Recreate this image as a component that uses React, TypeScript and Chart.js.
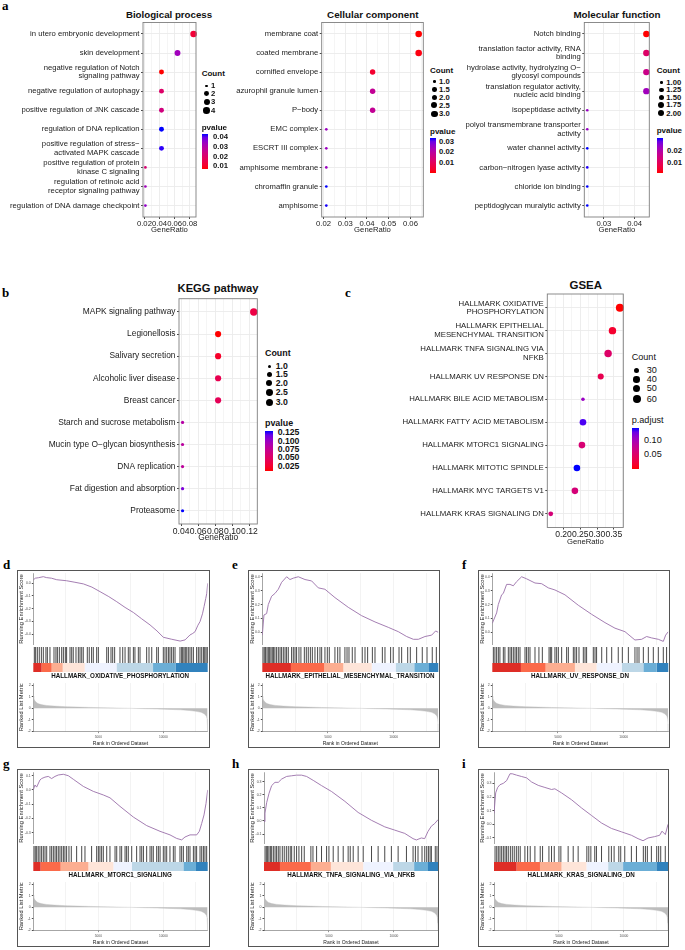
import React, { useEffect, useRef } from "react";
import { Chart, registerables } from "chart.js";

Chart.register(...registerables);

const SANS = "'Liberation Sans', Arial, Helvetica, sans-serif";
const SERIF = "'Liberation Serif', 'Times New Roman', serif";

/* ============================ DATA ============================ */
// a — GO Biological process
const bpTerms: string[][] = [
  ["in utero embryonic development"],
  ["skin development"],
  ["negative regulation of Notch", "signaling pathway"],
  ["negative regulation of autophagy"],
  ["positive regulation of JNK cascade"],
  ["regulation of DNA replication"],
  ["positive regulation of stress\u2212", "activated MAPK cascade"],
  ["positive regulation of protein", "kinase C signaling"],
  ["regulation of retinoic acid", "receptor signaling pathway"],
  ["regulation of DNA damage checkpoint"],
];
const bpGeneRatio = [0.0851, 0.0638, 0.0426, 0.0426, 0.0426, 0.0426, 0.0426, 0.0213, 0.0213, 0.0213];
const bpCount = [4, 3, 2, 2, 2, 2, 2, 1, 1, 1];
const bpPvalue = [0.0123, 0.033, 0.0069, 0.0196, 0.0232, 0.0431, 0.0424, 0.0214, 0.033, 0.0351];
const bpXTicks = [0.02, 0.04, 0.06, 0.08];
const bpXTickLabels = ["0.02", "0.04", "0.06", "0.08"];
const bpXMinor = [0.03, 0.05, 0.07];
const bpCountKeys = [1, 2, 3, 4];
const bpCountKeyLabels = ["1", "2", "3", "4"];
const bpPKeys = [0.01, 0.02, 0.03, 0.04];
const bpPKeyLabels = ["0.01", "0.02", "0.03", "0.04"];

// a — GO Cellular component
const ccTerms: string[][] = [
  ["membrane coat"],
  ["coated membrane"],
  ["cornified envelope"],
  ["azurophil granule lumen"],
  ["P\u2212body"],
  ["EMC complex"],
  ["ESCRT III complex"],
  ["amphisome membrane"],
  ["chromaffin granule"],
  ["amphisome"],
];
const ccGeneRatio = [0.0638, 0.0638, 0.0426, 0.0426, 0.0426, 0.0213, 0.0213, 0.0213, 0.0213, 0.0213];
const ccCount = [3, 3, 2, 2, 2, 1, 1, 1, 1, 1];
const ccPvalue = [0.0003, 0.0012, 0.0043, 0.0183, 0.0183, 0.0245, 0.0245, 0.0245, 0.033, 0.0328];
const ccXTicks = [0.02, 0.03, 0.04, 0.05, 0.06];
const ccXTickLabels = ["0.02", "0.03", "0.04", "0.05", "0.06"];
const ccXMinor = [0.025, 0.035, 0.045, 0.055, 0.065];
const ccCountKeys = [1, 1.5, 2, 2.5, 3];
const ccCountKeyLabels = ["1.0", "1.5", "2.0", "2.5", "3.0"];
const ccPKeys = [0.01, 0.02, 0.03];
const ccPKeyLabels = ["0.01", "0.02", "0.03"];

// a — GO Molecular function
const mfTerms: string[][] = [
  ["Notch binding"],
  ["translation factor activity, RNA", "binding"],
  ["hydrolase activity, hydrolyzing O\u2212", "glycosyl compounds"],
  ["translation regulator activity,", "nucleic acid binding"],
  ["isopeptidase activity"],
  ["polyol transmembrane transporter", "activity"],
  ["water channel activity"],
  ["carbon\u2212nitrogen lyase activity"],
  ["chloride ion binding"],
  ["peptidoglycan muralytic activity"],
];
const mfGeneRatio = [0.0438, 0.0438, 0.0438, 0.0438, 0.0246, 0.0246, 0.0246, 0.0246, 0.0246, 0.0246];
const mfCount = [2, 2, 2, 2, 1, 1, 1, 1, 1, 1];
const mfPvalue = [0.0017, 0.0117, 0.016, 0.0223, 0.0232, 0.0232, 0.0303, 0.03, 0.0303, 0.0303];
const mfXTicks = [0.03, 0.04];
const mfXTickLabels = ["0.03", "0.04"];
const mfXMinor = [0.025, 0.035];
const mfCountKeys = [1, 1.25, 1.5, 1.75, 2];
const mfCountKeyLabels = ["1.00", "1.25", "1.50", "1.75", "2.00"];
const mfPKeys = [0.01, 0.02];
const mfPKeyLabels = ["0.01", "0.02"];

// b — KEGG pathway
const keggTerms: string[][] = [
  ["MAPK signaling pathway"],
  ["Legionellosis"],
  ["Salivary secretion"],
  ["Alcoholic liver disease"],
  ["Breast cancer"],
  ["Starch and sucrose metabolism"],
  ["Mucin type O\u2212glycan biosynthesis"],
  ["DNA replication"],
  ["Fat digestion and absorption"],
  ["Proteasome"],
];
const keggGeneRatio = [0.125, 0.0833, 0.0833, 0.0833, 0.0833, 0.0417, 0.0417, 0.0417, 0.0417, 0.0417];
const keggCount = [3, 2, 2, 2, 2, 1, 1, 1, 1, 1];
const keggPvalue = [0.035, 0.011, 0.023, 0.041, 0.044, 0.085, 0.082, 0.08, 0.112, 0.13];
const keggXTicks = [0.04, 0.06, 0.08, 0.1, 0.12];
const keggXTickLabels = ["0.04", "0.06", "0.08", "0.10", "0.12"];
const keggXMinor = [0.05, 0.07, 0.09, 0.11];
const keggCountKeys = [1, 1.5, 2, 2.5, 3];
const keggCountKeyLabels = ["1.0", "1.5", "2.0", "2.5", "3.0"];
const keggPKeys = [0.025, 0.05, 0.075, 0.1, 0.125];
const keggPKeyLabels = ["0.025", "0.050", "0.075", "0.100", "0.125"];

// c — GSEA hallmark dot plot
const gseaTerms: string[][] = [
  ["HALLMARK OXIDATIVE", "PHOSPHORYLATION"],
  ["HALLMARK EPITHELIAL", "MESENCHYMAL TRANSITION"],
  ["HALLMARK TNFA SIGNALING VIA", "NFKB"],
  ["HALLMARK UV RESPONSE DN"],
  ["HALLMARK BILE ACID METABOLISM"],
  ["HALLMARK FATTY ACID METABOLISM"],
  ["HALLMARK MTORC1 SIGNALING"],
  ["HALLMARK MITOTIC SPINDLE"],
  ["HALLMARK MYC TARGETS V1"],
  ["HALLMARK KRAS SIGNALING DN"],
];
const gseaGeneRatio = [0.368, 0.346, 0.333, 0.311, 0.258, 0.258, 0.255, 0.24, 0.234, 0.162];
const gseaCount = [64, 54, 54, 35, 22, 42, 42, 42, 41, 25];
const gseaPadjust = [0.0005, 0.017, 0.05, 0.036, 0.106, 0.134, 0.057, 0.141, 0.06, 0.06];
const gseaXTicks = [0.2, 0.25, 0.3, 0.35];
const gseaXTickLabels = ["0.20", "0.25", "0.30", "0.35"];
const gseaXMinor = [0.175, 0.225, 0.275, 0.325, 0.375];
const gseaCountKeys = [30, 40, 50, 60];
const gseaCountKeyLabels = ["30", "40", "50", "60"];
const gseaPKeys = [0.05, 0.1];
const gseaPKeyLabels = ["0.05", "0.10"];

// d–i — GSEA enrichment plots
const rankedListLength = 13400;
const rankGridTicks = [2500, 5000, 7500, 10000, 12500];
const rankTickValues = [5000, 10000];
const rankTickLabels = ["5000", "10000"];
const rankedMetricTicks = [-2, -1, 0, 1, 2];
const rankedMetric: [number, number][] = [
  [0, 1.05], [40, 0.85], [100, 0.7], [200, 0.55], [350, 0.42], [600, 0.32], [1000, 0.25],
  [1600, 0.19], [2500, 0.14], [3500, 0.1], [4500, 0.07], [5500, 0.04], [6500, 0.015],
  [7500, -0.01], [8500, -0.035], [9500, -0.065], [10500, -0.1], [11300, -0.14], [12000, -0.2],
  [12500, -0.27], [12900, -0.36], [13150, -0.5], [13300, -0.7], [13360, -0.95], [13390, -1.4], [13400, -2.0],
];

const oxphosES: [number, number][] = [
  [0, 0.026], [150, 0.04], [400, 0.044], [770, 0.052], [1000, 0.045], [1400, 0.04], [1800, 0.028],
  [2560, 0.02], [3200, 0.008], [3850, -0.005], [4500, -0.03], [5130, -0.066], [5800, -0.105],
  [6410, -0.145], [7050, -0.19], [7690, -0.23], [8330, -0.28], [8970, -0.328], [9500, -0.375],
  [9990, -0.425], [10600, -0.44], [11285, -0.455], [11660, -0.446], [12040, -0.407], [12250, -0.395],
  [12430, -0.381], [12650, -0.33], [12810, -0.302], [13000, -0.24], [13120, -0.184], [13250, -0.12],
  [13330, -0.079], [13400, 0],
];
const oxphosHits = [80, 180, 310, 460, 620, 770, 970, 1080, 1280, 1590, 1740, 1850, 2000, 2180, 2310, 2460, 2560, 2820, 2950, 3070, 3280, 3460, 3590, 3720, 3840, 4150, 4300, 4480, 4610, 4870, 5000, 5640, 5770, 5970, 6100, 6250, 6660, 6870, 7050, 7300, 7430, 7690, 7810, 8070, 8200, 8710, 8890, 9100, 9480, 9610, 9990, 10120, 10250, 10380, 10500, 10630, 10760, 10890, 11270, 11400, 11480, 11580, 11680, 11790, 11910, 12040, 12170, 12300, 12550, 12680, 12810, 12940, 13070, 13170, 13270, 13370];
const oxphosBand = [0, 640, 1410, 2260, 3950, 6390, 9200, 10920, 13400];
const oxphosESTicks = [-0.4, -0.3, -0.2, -0.1, 0.0];

const emtES: [number, number][] = [
  [0, -0.02], [127, 0.125], [330, 0.135], [457, 0.2], [710, 0.26], [965, 0.28], [1218, 0.31],
  [1472, 0.36], [1853, 0.4], [2106, 0.38], [2360, 0.39], [2740, 0.4], [3250, 0.38], [3756, 0.37],
  [4264, 0.32], [4770, 0.31], [5532, 0.25], [6547, 0.18], [7560, 0.12], [8580, 0.075], [9594, 0.036],
  [10355, 0.005], [10990, -0.03], [11500, -0.05], [11880, -0.05], [12385, -0.03], [12893, -0.02],
  [13198, 0.01], [13400, 0],
];
const emtHits = [50, 150, 250, 360, 460, 560, 660, 760, 860, 960, 1090, 1220, 1350, 1470, 1600, 1730, 1850, 1980, 2230, 2360, 2490, 2610, 2790, 2940, 3200, 3350, 3500, 3660, 3810, 4010, 4210, 4390, 4520, 4770, 4950, 5100, 5530, 5740, 5910, 6290, 6450, 6600, 6850, 7060, 7610, 7820, 8020, 8380, 8580, 9140, 9340, 9770, 9970, 10410, 10610, 11070, 11270, 11750, 12180, 12540, 12940, 13250];
const emtBand = [0, 2180, 4720, 6170, 8330, 10150, 11570, 12640, 13400];
const emtESTicks = [0.0, 0.1, 0.2, 0.3, 0.4];

const uvES: [number, number][] = [
  [0, 0.065], [330, 0.14], [457, 0.2], [710, 0.27], [838, 0.28], [1090, 0.345], [1345, 0.345],
  [1600, 0.335], [1853, 0.365], [2233, 0.4], [2614, 0.385], [3250, 0.355], [3756, 0.35], [4264, 0.32],
  [4770, 0.305], [5532, 0.27], [6547, 0.195], [7560, 0.13], [8580, 0.07], [9340, 0.03], [10100, 0.005],
  [10860, -0.055], [11370, -0.05], [11750, -0.03], [12130, -0.04], [12640, -0.05], [13020, -0.065],
  [13198, -0.02], [13400, 0.005],
];
const uvHits = [80, 200, 330, 460, 580, 840, 960, 1220, 1350, 1470, 1600, 1730, 1850, 1980, 2110, 2490, 2610, 2740, 2870, 3250, 3550, 3810, 4320, 4420, 4520, 4770, 4900, 5030, 5280, 5660, 5790, 6170, 6290, 6420, 6600, 6930, 7060, 7180, 7690, 7820, 7940, 8330, 8710, 9090, 9590, 9900, 10360, 10860, 11020, 11170, 11500, 11880, 12260, 12640, 13020, 13270];
const uvBand = [0, 2180, 4060, 6290, 7940, 9850, 11500, 12510, 13400];
const uvESTicks = [0.0, 0.1, 0.2, 0.3, 0.4];

const mtorc1ES: [number, number][] = [
  [0, 0], [128, 0.035], [256, 0.02], [512, 0.07], [640, 0.08], [897, 0.09], [1153, 0.095],
  [1409, 0.08], [1665, 0.095], [1921, 0.105], [2306, 0.11], [2690, 0.1], [3074, 0.075], [3843, 0.025],
  [4612, -0.01], [5380, -0.035], [5893, -0.055], [6661, -0.115], [7686, -0.19], [8711, -0.25],
  [9736, -0.29], [10504, -0.315], [11017, -0.34], [11401, -0.35], [11657, -0.33], [12041, -0.315],
  [12553, -0.315], [12758, -0.29], [12938, -0.235], [13117, -0.175], [13270, -0.095], [13400, 0],
];
const mtorc1Hits = [50, 150, 260, 380, 510, 640, 770, 900, 1030, 1280, 1410, 1540, 1670, 1790, 1920, 2050, 2180, 2310, 2430, 2560, 2740, 2920, 3330, 3720, 3970, 4480, 4870, 5000, 5120, 5250, 5380, 5640, 5890, 6280, 6410, 6660, 6790, 7050, 7170, 7300, 7560, 7940, 8200, 8330, 8460, 8710, 8970, 9100, 9220, 9480, 9610, 9740, 9990, 10120, 10250, 10500, 10760, 10890, 11270, 11400, 11530, 11790, 11910, 12040, 12300, 12430, 12550, 12810, 12940, 13070, 13190, 13320];
const mtorc1Band = [0, 560, 2100, 4230, 6150, 7560, 11530, 12500, 13400];
const mtorc1ESTicks = [-0.3, -0.2, -0.1, 0.0, 0.1];

const tnfaES: [number, number][] = [
  [0, -0.005], [77, 0.06], [205, 0.14], [384, 0.21], [589, 0.27], [845, 0.295], [1102, 0.295],
  [1358, 0.32], [1742, 0.34], [2126, 0.345], [2511, 0.35], [2895, 0.35], [3279, 0.34], [3792, 0.31],
  [4432, 0.27], [5201, 0.225], [6226, 0.15], [7250, 0.065], [8275, 0.005], [9300, -0.045],
  [10068, -0.07], [10837, -0.095], [11478, -0.135], [11734, -0.145], [12119, -0.13], [12375, -0.135],
  [12631, -0.08], [12887, -0.04], [13143, -0.02], [13400, 0.01],
];
const tnfaHits = [80, 180, 280, 380, 490, 590, 720, 850, 970, 1100, 1230, 1410, 1560, 1720, 1870, 2020, 2130, 2330, 2510, 2690, 2900, 3100, 3610, 3770, 4050, 4430, 4820, 5000, 5330, 5710, 6100, 6480, 6640, 6870, 7250, 7640, 8280, 8790, 9300, 9810, 10330, 10970, 11480, 11660, 11860, 12170, 12380, 12530, 12660, 12790, 12890, 13190, 13320];
const tnfaBand = [0, 1230, 3610, 5150, 7640, 9940, 11560, 12630, 13400];
const tnfaESTicks = [-0.1, 0.0, 0.1, 0.2, 0.3];

const krasES: [number, number][] = [
  [0, 0.08], [128, 0.23], [282, 0.27], [461, 0.29], [717, 0.3], [974, 0.32], [1230, 0.37],
  [1409, 0.37], [1742, 0.36], [2126, 0.35], [2511, 0.34], [2895, 0.31], [3407, 0.285], [3920, 0.27],
  [4432, 0.255], [4688, 0.26], [5201, 0.23], [5970, 0.18], [6739, 0.12], [7507, 0.065], [8275, 0.01],
  [9044, -0.03], [9813, -0.055], [10581, -0.08], [11094, -0.105], [11478, -0.12], [11862, -0.1],
  [12375, -0.09], [12759, -0.08], [12938, -0.05], [13195, -0.075], [13400, 0],
];
const krasHits = [80, 210, 330, 460, 590, 720, 850, 970, 1100, 1260, 1410, 1560, 1720, 1870, 2020, 2380, 2590, 2790, 3150, 3560, 3740, 4230, 4430, 4640, 5000, 5150, 5710, 6100, 6480, 7150, 7300, 7460, 7760, 7890, 8280, 8840, 9040, 9250, 9610, 9760, 10070, 10580, 10970, 11500, 11660, 11810, 12120, 12530, 12680, 12840, 13190];
const krasBand = [0, 1740, 3540, 5200, 7120, 8790, 9940, 12500, 13400];
const krasESTicks = [-0.1, 0.0, 0.1, 0.2, 0.3];

const bandPalette = ["#DE2D26", "#FB6A4A", "#FCAE91", "#FEE5D9", "#EFF3FF", "#BDD7E7", "#6BAED6", "#3182BD"];

/* ============================ HELPERS ============================ */
function toLab(r: number, g: number, b: number) {
  const lin = (c: number) => { c /= 255; return c <= 0.04045 ? c / 12.92 : Math.pow((c + 0.055) / 1.055, 2.4); };
  const R = lin(r), G = lin(g), B = lin(b);
  const X = (0.4124564 * R + 0.3575761 * G + 0.1804375 * B) / 0.95047;
  const Y = 0.2126729 * R + 0.7151522 * G + 0.072175 * B;
  const Z = (0.0193339 * R + 0.119192 * G + 0.9503041 * B) / 1.08883;
  const f = (t: number) => (t > 0.008856 ? Math.cbrt(t) : 7.787 * t + 16 / 116);
  return [116 * f(Y) - 16, 500 * (f(X) - f(Y)), 200 * (f(Y) - f(Z))];
}
function fromLab(L: number, a: number, b: number) {
  const fy = (L + 16) / 116, fx = fy + a / 500, fz = fy - b / 200;
  const fi = (t: number) => (t > 0.206893 ? t * t * t : (t - 16 / 116) / 7.787);
  const X = 0.95047 * fi(fx), Y = fi(fy), Z = 1.08883 * fi(fz);
  const rl = 3.2404542 * X - 1.5371385 * Y - 0.4985314 * Z;
  const gl = -0.969266 * X + 1.8760108 * Y + 0.041556 * Z;
  const bl = 0.0556434 * X - 0.2040259 * Y + 1.0572252 * Z;
  const gam = (c: number) => {
    const v = c <= 0.0031308 ? 12.92 * c : 1.055 * Math.pow(c, 1 / 2.4) - 0.055;
    return Math.round(Math.max(0, Math.min(1, v)) * 255);
  };
  return `rgb(${gam(rl)},${gam(gl)},${gam(bl)})`;
}
const LAB_LOW = toLab(255, 0, 0);
const LAB_HIGH = toLab(0, 0, 255);
function gradColor(t: number) {
  const u = Math.max(0, Math.min(1, t));
  return fromLab(
    LAB_LOW[0] + (LAB_HIGH[0] - LAB_LOW[0]) * u,
    LAB_LOW[1] + (LAB_HIGH[1] - LAB_LOW[1]) * u,
    LAB_LOW[2] + (LAB_HIGH[2] - LAB_LOW[2]) * u
  );
}
function sizeScale(cMin: number, cMax: number, rMin: number, rMax: number) {
  return (c: number) => rMin + (rMax - rMin) * Math.sqrt(Math.max(0, (c - cMin) / (cMax - cMin)));
}
function expandRange(vals: number[]): [number, number] {
  const lo = Math.min(...vals), hi = Math.max(...vals);
  const d = (hi - lo) * 0.05;
  return [lo - d, hi + d];
}

const panelBorder = {
  id: "panelBorder",
  afterDatasetsDraw(chart: any) {
    const { ctx, chartArea: a } = chart;
    ctx.save();
    ctx.strokeStyle = "#7f7f7f";
    ctx.lineWidth = 0.9;
    ctx.strokeRect(a.left, a.top, a.right - a.left, a.bottom - a.top);
    ctx.restore();
  },
};

function Txt({ x, y, size, bold, children, align, color, family, style }: any) {
  const lh = size * 1.2;
  const st: any = {
    position: "absolute",
    top: y - lh / 2,
    fontSize: size,
    lineHeight: lh + "px",
    fontWeight: bold ? "bold" : "normal",
    whiteSpace: "nowrap",
    color: color || "#111",
    fontFamily: family || SANS,
    ...(style || {}),
  };
  if (align === "center") {
    st.left = x - 150;
    st.width = 300;
    st.textAlign = "center";
  } else {
    st.left = x;
  }
  return <div style={st}>{children}</div>;
}

/* ============================ DOT PLOT ============================ */
type DotSpec = {
  terms: string[][]; ratio: number[]; count: number[]; p: number[];
  xTicks: number[]; xTickLabels: string[]; xMinor: number[];
  canvasLeft: number; plot: { l: number; r: number; t: number; b: number }; xTitleY: number;
  labelSize: number; tickSize: number; titleSize: number; rMin: number; rMax: number;
};

function DotPlot({ s }: { s: DotSpec }) {
  const ref = useRef<HTMLCanvasElement>(null);
  const cTop = Math.floor(s.plot.t - 3);
  const cBottom = Math.ceil(s.xTitleY + s.titleSize * 0.6 + 1);
  const cLeft = s.canvasLeft;
  const cRight = Math.ceil(s.plot.r + 5);
  const W = cRight - cLeft;
  const H = cBottom - cTop;
  useEffect(() => {
    const cMin = Math.min(...s.count), cMax = Math.max(...s.count);
    const pMin = Math.min(...s.p), pMax = Math.max(...s.p);
    const rad = sizeScale(cMin, cMax, s.rMin, s.rMax);
    const [xMin, xMax] = expandRange(s.ratio);
    const n = s.terms.length;
    const xAxisH = s.xTitleY + s.titleSize * 0.6 - s.plot.b;
    const plotBottomInCanvas = s.plot.b - cTop;
    const allX = [...s.xTicks, ...s.xMinor].filter((v) => v >= xMin && v <= xMax).sort((a, b) => a - b);
    const isMajor = (v: number) => s.xTicks.indexOf(v) >= 0;
    const chart = new Chart(ref.current as HTMLCanvasElement, {
      type: "scatter",
      data: {
        datasets: [
          {
            data: s.ratio.map((x, i) => ({ x, y: i })),
            pointRadius: (c: any) => rad(s.count[c.dataIndex]),
            pointHoverRadius: (c: any) => rad(s.count[c.dataIndex]),
            backgroundColor: (c: any) => gradColor((s.p[c.dataIndex] - pMin) / (pMax - pMin)),
            pointBackgroundColor: (c: any) => gradColor((s.p[c.dataIndex] - pMin) / (pMax - pMin)),
            borderWidth: 0,
            pointBorderWidth: 0,
            clip: false,
          } as any,
        ],
      },
      options: {
        animation: false,
        responsive: false,
        events: [],
        layout: {
          padding: {
            left: 0,
            top: s.plot.t - cTop,
            right: cRight - s.plot.r,
            bottom: H - plotBottomInCanvas - xAxisH,
          },
        },
        plugins: { legend: { display: false }, tooltip: { enabled: false } },
        scales: {
          x: {
            type: "linear",
            min: xMin,
            max: xMax,
            afterBuildTicks: (ax: any) => { ax.ticks = allX.map((v) => ({ value: v })); },
            afterFit: (ax: any) => { ax.height = xAxisH; ax.paddingLeft = 0; ax.paddingRight = 0; },
            ticks: {
              autoSkip: false,
              maxRotation: 0,
              minRotation: 0,
              padding: 0,
              color: "#1a1a1a",
              font: { family: SANS, size: s.tickSize, lineHeight: 1.2 },
              callback: (v: any) => { const i = s.xTicks.indexOf(v); return i >= 0 ? s.xTickLabels[i] : ""; },
            },
            grid: {
              color: "#EBEBEB",
              lineWidth: (c: any) => (c.tick && isMajor(c.tick.value) ? 0.9 : 0.5),
              tickLength: 2,
              tickColor: (c: any) => (c.tick && isMajor(c.tick.value) ? "#333" : "rgba(0,0,0,0)"),
            },
            border: { display: false },
            title: { display: true, text: "GeneRatio", color: "#1a1a1a", padding: 0, font: { family: SANS, size: s.titleSize, lineHeight: 1.2 } },
          } as any,
          y: {
            type: "linear",
            reverse: true,
            min: -0.6,
            max: n - 0.4,
            afterBuildTicks: (ax: any) => { ax.ticks = s.terms.map((_, i) => ({ value: i })); },
            afterFit: (ax: any) => { ax.width = s.plot.l - cLeft; ax.paddingTop = 0; ax.paddingBottom = 0; },
            ticks: {
              autoSkip: false,
              padding: 1.5,
              color: "#1a1a1a",
              font: { family: SANS, size: s.labelSize, lineHeight: 1.1 },
              callback: (v: any) => s.terms[v] as any,
            },
            grid: { color: "#EBEBEB", lineWidth: 0.9, tickLength: 2, tickColor: "#333" },
            border: { display: false },
          } as any,
        },
      },
      plugins: [panelBorder],
    } as any);
    return () => chart.destroy();
  }, []);
  return (
    <canvas
      ref={ref}
      width={W}
      height={H}
      style={{ position: "absolute", left: cLeft, top: cTop, width: W, height: H }}
    />
  );
}

type LegendSpec = {
  count: number[]; p: number[]; rMin: number; rMax: number;
  countTitle: string; countTitleX: number; countTitleY: number; titleSize: number; bold: boolean;
  keys: number[]; keyLabels: string[]; keyYs: number[]; dotX: number; keyLabelX: number; keySize: number;
  pTitle: string; pTitleX: number; pTitleY: number;
  bar: { x: number; top: number; w: number; h: number }; pKeys: number[]; pKeyLabels: string[]; pLabelX: number;
};

function Legend({ L }: { L: LegendSpec }) {
  const rad = sizeScale(Math.min(...L.count), Math.max(...L.count), L.rMin, L.rMax);
  const pMin = Math.min(...L.p), pMax = Math.max(...L.p);
  const stops: string[] = [];
  for (let i = 0; i <= 10; i++) stops.push(`${gradColor(i / 10)} ${i * 10}%`);
  return (
    <>
      <Txt x={L.countTitleX} y={L.countTitleY} size={L.titleSize} bold={L.bold}>{L.countTitle}</Txt>
      {L.keys.map((k, i) => {
        const r = rad(k);
        return (
          <React.Fragment key={i}>
            <div style={{ position: "absolute", left: L.dotX - r, top: L.keyYs[i] - r, width: 2 * r, height: 2 * r, borderRadius: "50%", background: "#000" }} />
            <Txt x={L.keyLabelX} y={L.keyYs[i]} size={L.keySize} bold={L.bold}>{L.keyLabels[i]}</Txt>
          </React.Fragment>
        );
      })}
      <Txt x={L.pTitleX} y={L.pTitleY} size={L.titleSize} bold={L.bold}>{L.pTitle}</Txt>
      <div style={{ position: "absolute", left: L.bar.x, top: L.bar.top, width: L.bar.w, height: L.bar.h, background: `linear-gradient(to top, ${stops.join(", ")})` }} />
      {L.pKeys.map((v, i) => {
        const t = (v - pMin) / (pMax - pMin);
        const y = L.bar.top + (1 - t) * L.bar.h;
        return (
          <Txt key={"p" + i} x={L.pLabelX} y={y} size={L.keySize} bold={L.bold}>{L.pKeyLabels[i]}</Txt>
        );
      })}
    </>
  );
}

/* ============================ GSEA PANEL ============================ */
type GseaSpec = {
  name: string; es: [number, number][]; hits: number[]; band: number[]; esTicks: number[];
  esMin: number; esMax: number; box: { L: number; T: number; R: number }; plotL: number; plotR: number;
};

function GseaPanel({ g }: { g: GseaSpec }) {
  const esRef = useRef<HTMLCanvasElement>(null);
  const hitRef = useRef<HTMLCanvasElement>(null);
  const bandRef = useRef<HTMLCanvasElement>(null);
  const rkRef = useRef<HTMLCanvasElement>(null);
  const { L, T, R } = g.box;
  const cl = Math.round(L + 1);
  const cr = Math.round(R - 1);
  const cw = cr - cl;
  const axisW = g.plotL - cl;
  const padR = cr - g.plotR;
  const esTop = T + 3, esH = 72;
  const hitTop = T + 77, hitH = 16;
  const bandTop = T + 93, bandH = 9;
  const rkTop = T + 113, rkH = 64, rkAxisH = 15.3;

  useEffect(() => {
    const base: any = {
      animation: false,
      responsive: false,
      events: [],
      plugins: { legend: { display: false }, tooltip: { enabled: false } },
      layout: { padding: { left: 0, top: 0, bottom: 0, right: padR } },
    };
    const xScale = (labels: boolean): any => ({
      type: "linear",
      min: 0,
      max: rankedListLength,
      afterBuildTicks: (ax: any) => { ax.ticks = rankGridTicks.map((v) => ({ value: v })); },
      afterFit: (ax: any) => { ax.paddingLeft = 0; ax.paddingRight = 0; ax.height = labels ? rkAxisH : 0; },
      ticks: {
        display: labels,
        autoSkip: false,
        maxRotation: 0,
        padding: 1.5,
        color: "#4d4d4d",
        font: { family: SANS, size: 3.2, lineHeight: 1.2 },
        callback: (v: any) => { const i = rankTickValues.indexOf(v); return i >= 0 ? rankTickLabels[i] : ""; },
      },
      grid: {
        color: "#EBEBEB",
        lineWidth: 0.6,
        drawTicks: labels,
        tickLength: 1.5,
        tickColor: (c: any) => (c.tick && rankTickValues.indexOf(c.tick.value) >= 0 ? "#4d4d4d" : "rgba(0,0,0,0)"),
      },
      border: { display: labels, color: "#4d4d4d", width: 0.5 },
      title: { display: labels, text: "Rank in Ordered Dataset", color: "#222", padding: 0, font: { family: SANS, size: 5, lineHeight: 1.2 } },
    });
    const yScale = (min: number, max: number, ticks: number[], fmt: (v: number) => string, title: string): any => ({
      type: "linear",
      min,
      max,
      afterBuildTicks: (ax: any) => { ax.ticks = ticks.map((v) => ({ value: v })); },
      afterFit: (ax: any) => { ax.width = axisW; ax.paddingTop = 0; ax.paddingBottom = 0; },
      ticks: { autoSkip: false, padding: 1, color: "#4d4d4d", font: { family: SANS, size: 3.5, lineHeight: 1.2 }, callback: (v: any) => fmt(v) },
      grid: { drawOnChartArea: false, tickLength: 1.5, tickColor: "#4d4d4d" },
      border: { display: true, color: "#4d4d4d", width: 0.5 },
      title: { display: true, text: title, color: "#222", padding: 0, font: { family: SANS, size: 5.8, lineHeight: 1.2 } },
    });
    const hiddenY = (): any => ({
      type: "linear",
      min: 0,
      max: 1,
      afterFit: (ax: any) => { ax.width = axisW; ax.paddingTop = 0; ax.paddingBottom = 0; },
      ticks: { display: false },
      grid: { display: false },
      border: { display: false },
    });
    const hiddenX = (): any => ({
      type: "linear",
      min: 0,
      max: rankedListLength,
      afterFit: (ax: any) => { ax.height = 0; ax.paddingLeft = 0; ax.paddingRight = 0; },
      ticks: { display: false },
      grid: { display: false },
      border: { display: false },
    });

    const esChart = new Chart(esRef.current as HTMLCanvasElement, {
      type: "line",
      data: {
        datasets: [
          { data: g.es.map(([x, y]) => ({ x, y })), borderColor: "#9A6FA9", borderWidth: 0.9, pointRadius: 0, tension: 0, fill: false },
        ],
      },
      options: { ...base, scales: { x: xScale(false), y: yScale(g.esMin, g.esMax, g.esTicks, (v) => v.toFixed(1), "Running Enrichment Score") } },
    } as any);

    // gene hits: vertical segments (0 -> 1), separated by gaps
    const hitPts: any[] = [];
    g.hits.forEach((x) => { hitPts.push({ x, y: 0 }, { x, y: 1 }, { x, y: null }); });
    const hitChart = new Chart(hitRef.current as HTMLCanvasElement, {
      type: "line",
      data: {
        datasets: [
          {
            data: hitPts,
            borderColor: "rgba(0,0,0,0.8)",
            borderWidth: 0.9,
            borderCapStyle: "butt",
            pointRadius: 0,
            spanGaps: false,
            fill: false,
            tension: 0,
            clip: false,
          },
        ],
      },
      options: { ...base, parsing: true, normalized: false, scales: { x: hiddenX(), y: hiddenY() } },
    } as any);

    // colour band segments
    const bandChart = new Chart(bandRef.current as HTMLCanvasElement, {
      type: "line",
      data: {
        datasets: g.band.slice(0, -1).map((start, i) => ({
          data: [{ x: start, y: 0.5 }, { x: g.band[i + 1], y: 0.5 }],
          borderColor: bandPalette[i],
          borderWidth: bandH,
          borderCapStyle: "butt",
          pointRadius: 0,
          fill: false,
          clip: false,
        })),
      },
      options: { ...base, scales: { x: hiddenX(), y: hiddenY() } },
    } as any);

    const rkChart = new Chart(rkRef.current as HTMLCanvasElement, {
      type: "line",
      data: {
        datasets: [
          {
            data: rankedMetric.map(([x, y]) => ({ x, y })),
            borderColor: "#BDBDBD",
            backgroundColor: "#BDBDBD",
            borderWidth: 0.4,
            pointRadius: 0,
            tension: 0,
            fill: "origin",
          },
        ],
      },
      options: { ...base, scales: { x: xScale(true), y: yScale(-2.06, 2.22, rankedMetricTicks, (v) => String(v), "Ranked List Metric") } },
    } as any);

    return () => { esChart.destroy(); hitChart.destroy(); bandChart.destroy(); rkChart.destroy(); };
  }, []);

  const cs = (top: number, h: number): any => ({ position: "absolute", left: cl, top, width: cw, height: h });
  return (
    <>
      <div style={{ position: "absolute", left: L, top: T, width: R - L, height: 178, border: "1px solid #555", boxSizing: "border-box" }} />
      <canvas ref={esRef} width={cw} height={esH} style={cs(esTop, esH)} />
      <canvas ref={hitRef} width={cw} height={hitH} style={cs(hitTop, hitH)} />
      <canvas ref={bandRef} width={cw} height={bandH} style={cs(bandTop, bandH)} />
      <div
        style={{
          position: "absolute",
          left: g.plotL - 40,
          width: g.plotR - g.plotL + 80,
          top: T + 105.5 - 4.8,
          lineHeight: "9.6px",
          fontSize: 8,
          fontWeight: "bold",
          textAlign: "center",
          whiteSpace: "nowrap",
          fontFamily: SANS,
          color: "#111",
          transform: "scaleX(0.78)",
        }}
      >
        {g.name}
      </div>
      <canvas ref={rkRef} width={cw} height={rkH} style={cs(rkTop, rkH)} />
    </>
  );
}

/* ============================ SPECS ============================ */
const bpSpec: DotSpec = {
  terms: bpTerms, ratio: bpGeneRatio, count: bpCount, p: bpPvalue,
  xTicks: bpXTicks, xTickLabels: bpXTickLabels, xMinor: bpXMinor,
  canvasLeft: 0, plot: { l: 143, r: 196, t: 22.5, b: 217 }, xTitleY: 230,
  labelSize: 7.7, tickSize: 7.7, titleSize: 7.7, rMin: 1.35, rMax: 3.3,
};
const ccSpec: DotSpec = {
  terms: ccTerms, ratio: ccGeneRatio, count: ccCount, p: ccPvalue,
  xTicks: ccXTicks, xTickLabels: ccXTickLabels, xMinor: ccXMinor,
  canvasLeft: 226, plot: { l: 321.7, r: 423.3, t: 22.5, b: 217 }, xTitleY: 230,
  labelSize: 7.7, tickSize: 7.7, titleSize: 7.7, rMin: 1.35, rMax: 3.3,
};
const mfSpec: DotSpec = {
  terms: mfTerms, ratio: mfGeneRatio, count: mfCount, p: mfPvalue,
  xTicks: mfXTicks, xTickLabels: mfXTickLabels, xMinor: mfXMinor,
  canvasLeft: 456, plot: { l: 584.3, r: 649.3, t: 22.5, b: 217 }, xTitleY: 230,
  labelSize: 7.7, tickSize: 7.7, titleSize: 7.7, rMin: 1.3, rMax: 3.2,
};
const keggSpec: DotSpec = {
  terms: keggTerms, ratio: keggGeneRatio, count: keggCount, p: keggPvalue,
  xTicks: keggXTicks, xTickLabels: keggXTickLabels, xMinor: keggXMinor,
  canvasLeft: 0, plot: { l: 179, r: 257.3, t: 298, b: 524 }, xTitleY: 537.7,
  labelSize: 8.4, tickSize: 8.6, titleSize: 8.4, rMin: 1.6, rMax: 3.7,
};
const gseaSpec: DotSpec = {
  terms: gseaTerms, ratio: gseaGeneRatio, count: gseaCount, p: gseaPadjust,
  xTicks: gseaXTicks, xTickLabels: gseaXTickLabels, xMinor: gseaXMinor,
  canvasLeft: 341, plot: { l: 547.3, r: 623.3, t: 293.5, b: 527.5 }, xTitleY: 542.3,
  labelSize: 7.8, tickSize: 8.6, titleSize: 7.7, rMin: 1.8, rMax: 4.0,
};

const legends: LegendSpec[] = [
  {
    count: bpCount, p: bpPvalue, rMin: 1.35, rMax: 3.3,
    countTitle: "Count", countTitleX: 201.7, countTitleY: 74, titleSize: 8, bold: true,
    keys: bpCountKeys, keyLabels: bpCountKeyLabels, keyYs: [86, 93.3, 101.7, 110.3], dotX: 206.7, keyLabelX: 211, keySize: 7.7,
    pTitle: "pvalue", pTitleX: 201.7, pTitleY: 127.7,
    bar: { x: 201.7, top: 134, w: 6.3, h: 35 }, pKeys: bpPKeys, pKeyLabels: bpPKeyLabels, pLabelX: 213,
  },
  {
    count: ccCount, p: ccPvalue, rMin: 1.35, rMax: 3.3,
    countTitle: "Count", countTitleX: 430, countTitleY: 71, titleSize: 8, bold: true,
    keys: ccCountKeys, keyLabels: ccCountKeyLabels, keyYs: [81.3, 89.3, 97.3, 105.3, 114], dotX: 434.3, keyLabelX: 439, keySize: 7.7,
    pTitle: "pvalue", pTitleX: 430, pTitleY: 131.7,
    bar: { x: 430, top: 138.3, w: 5.7, h: 34.4 }, pKeys: ccPKeys, pKeyLabels: ccPKeyLabels, pLabelX: 439,
  },
  {
    count: mfCount, p: mfPvalue, rMin: 1.3, rMax: 3.2,
    countTitle: "Count", countTitleX: 656.7, countTitleY: 71, titleSize: 8, bold: true,
    keys: mfCountKeys, keyLabels: mfCountKeyLabels, keyYs: [82.3, 90, 97.3, 105, 113.3], dotX: 661.3, keyLabelX: 666.3, keySize: 7.7,
    pTitle: "pvalue", pTitleX: 656.7, pTitleY: 131,
    bar: { x: 656.7, top: 138.3, w: 6, h: 34.4 }, pKeys: mfPKeys, pKeyLabels: mfPKeyLabels, pLabelX: 667,
  },
  {
    count: keggCount, p: keggPvalue, rMin: 1.6, rMax: 3.7,
    countTitle: "Count", countTitleX: 265, countTitleY: 353.3, titleSize: 8.9, bold: true,
    keys: keggCountKeys, keyLabels: keggCountKeyLabels, keyYs: [366.3, 374.7, 383.3, 392.7, 402.7], dotX: 269.3, keyLabelX: 275.7, keySize: 8.7,
    pTitle: "pvalue", pTitleX: 265, pTitleY: 423.3,
    bar: { x: 265, top: 431, w: 7.5, h: 39.7 }, pKeys: keggPKeys, pKeyLabels: keggPKeyLabels, pLabelX: 277.7,
  },
  {
    count: gseaCount, p: gseaPadjust, rMin: 1.8, rMax: 4.0,
    countTitle: "Count", countTitleX: 631.7, countTitleY: 357.3, titleSize: 9.1, bold: false,
    keys: gseaCountKeys, keyLabels: gseaCountKeyLabels, keyYs: [370.7, 379.3, 388.7, 399], dotX: 636.7, keyLabelX: 646.7, keySize: 9.1,
    pTitle: "p.adjust", pTitleX: 631.7, pTitleY: 420,
    bar: { x: 631.7, top: 428.3, w: 7.3, h: 40.7 }, pKeys: gseaPKeys, pKeyLabels: gseaPKeyLabels, pLabelX: 644,
  },
];

const gseaPanels: GseaSpec[] = [
  { name: "HALLMARK_OXIDATIVE_PHOSPHORYLATION", es: oxphosES, hits: oxphosHits, band: oxphosBand, esTicks: oxphosESTicks, esMin: -0.486, esMax: 0.081, box: { L: 17.3, T: 570, R: 210 }, plotL: 33.3, plotR: 207.7 },
  { name: "HALLMARK_EPITHELIAL_MESENCHYMAL_TRANSITION", es: emtES, hits: emtHits, band: emtBand, esTicks: emtESTicks, esMin: -0.091, esMax: 0.427, box: { L: 247.7, T: 570, R: 440 }, plotL: 262.3, plotR: 438.3 },
  { name: "HALLMARK_UV_RESPONSE_DN", es: uvES, hits: uvHits, band: uvBand, esTicks: uvESTicks, esMin: -0.091, esMax: 0.427, box: { L: 478.3, T: 570, R: 670 }, plotL: 492.3, plotR: 668.3 },
  { name: "HALLMARK_MTORC1_SIGNALING", es: mtorc1ES, hits: mtorc1Hits, band: mtorc1Band, esTicks: mtorc1ESTicks, esMin: -0.379, esMax: 0.126, box: { L: 17.3, T: 769, R: 210 }, plotL: 33.3, plotR: 207.7 },
  { name: "HALLMARK_TNFA_SIGNALING_VIA_NFKB", es: tnfaES, hits: tnfaHits, band: tnfaBand, esTicks: tnfaESTicks, esMin: -0.176, esMax: 0.374, box: { L: 247.7, T: 769, R: 439.3 }, plotL: 264, plotR: 438.3 },
  { name: "HALLMARK_KRAS_SIGNALING_DN", es: krasES, hits: krasHits, band: krasBand, esTicks: krasESTicks, esMin: -0.144, esMax: 0.383, box: { L: 478.3, T: 769, R: 669.3 }, plotL: 494, plotR: 668.3 },
];

const letters: [string, number, number][] = [
  ["a", 2, -1], ["b", 2, 286], ["c", 345, 286],
  ["d", 3, 558], ["e", 232, 558], ["f", 462, 558],
  ["g", 3, 757], ["h", 232, 757], ["i", 462, 757],
];

/* ============================ APP ============================ */
export default function App() {
  return (
    <div style={{ position: "absolute", left: 0, top: 0, width: 685, height: 950, background: "#fff", overflow: "hidden", fontFamily: SANS }}>
      {letters.map(([t, x, y]) => (
        <div key={t} style={{ position: "absolute", left: x, top: y, fontFamily: SERIF, fontWeight: "bold", fontSize: 13, lineHeight: "13px", color: "#000" }}>{t}</div>
      ))}

      <Txt x={169} y={15} size={9.7} bold align="center">Biological process</Txt>
      <Txt x={372.8} y={15} size={9.8} bold align="center">Cellular component</Txt>
      <Txt x={617} y={15} size={9.8} bold align="center">Molecular function</Txt>
      <Txt x={218} y={288.3} size={11.2} bold align="center">KEGG pathway</Txt>
      <Txt x={585.8} y={285.7} size={11.5} bold align="center">GSEA</Txt>

      <DotPlot s={bpSpec} />
      <DotPlot s={ccSpec} />
      <DotPlot s={mfSpec} />
      <DotPlot s={keggSpec} />
      <DotPlot s={gseaSpec} />

      {legends.map((L, i) => (
        <Legend key={i} L={L} />
      ))}

      {gseaPanels.map((g) => (
        <GseaPanel key={g.name} g={g} />
      ))}
    </div>
  );
}
